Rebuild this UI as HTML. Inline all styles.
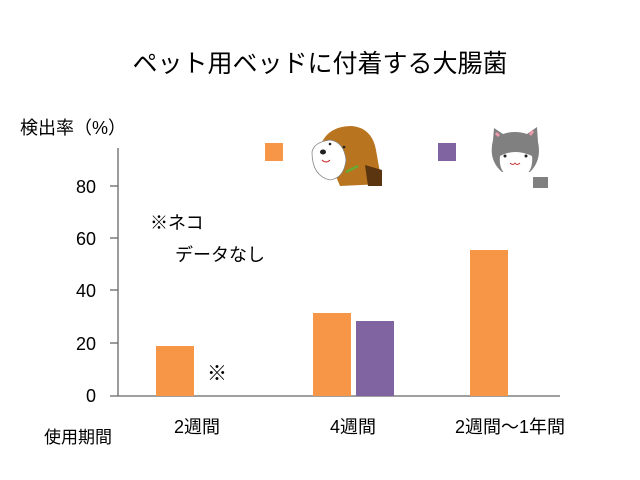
<!DOCTYPE html>
<html><head><meta charset="utf-8"><style>
html,body{margin:0;padding:0;background:#fff;}
svg{display:block;}
text{font-family:"Liberation Sans","Noto Sans CJK JP",sans-serif;fill:#000;}
</style></head><body>
<svg width="640" height="480" viewBox="0 0 640 480" xmlns="http://www.w3.org/2000/svg">
<text x="320" y="72" font-size="25" text-anchor="middle">ペット用ベッドに付着する大腸菌</text>
<text x="20" y="134" font-size="18">検出率（%）</text>
<line x1="118" y1="148" x2="118" y2="396" stroke="#666" stroke-width="1.3"/>
<line x1="110" y1="396" x2="560" y2="396" stroke="#666" stroke-width="1.3"/>
<g stroke="#666" stroke-width="1.3">
<line x1="110" y1="186" x2="118" y2="186"/><line x1="110" y1="238" x2="118" y2="238"/>
<line x1="110" y1="290" x2="118" y2="290"/><line x1="110" y1="343" x2="118" y2="343"/>
</g>
<g font-size="18" text-anchor="end">
<text x="96" y="193">80</text><text x="96" y="245">60</text><text x="96" y="297">40</text>
<text x="96" y="350">20</text><text x="96" y="402">0</text>
</g>
<rect x="156" y="346" width="38" height="50" fill="#F79646"/>
<rect x="313" y="313" width="38" height="83" fill="#F79646"/>
<rect x="356" y="321" width="38" height="75" fill="#8064A2"/>
<rect x="470" y="250" width="38" height="146" fill="#F79646"/>
<rect x="265" y="143" width="18" height="18" fill="#F79646"/>
<rect x="438" y="143" width="18" height="18" fill="#8064A2"/>
<g>
<path d="M322 142 Q330 126 352 126 Q372 128 376 150 L382 184 L340 186 Z" fill="#B8741E"/>
<path d="M365 165 L382 170 L382 186 L368 186 Z" fill="#5a3510"/>
<path d="M312 152 Q314 142 330 140 Q344 142 346 160 Q344 178 330 180 Q312 176 312 152 Z" fill="#fff" stroke="#888" stroke-width="0.8"/>
<ellipse cx="323" cy="152" rx="3" ry="2.5" fill="#222"/>
<path d="M322 160 Q326 164 330 160" stroke="#c33" fill="none" stroke-width="1"/>
<circle cx="330" cy="144" r="1.3" fill="#222"/><circle cx="344" cy="147" r="1.3" fill="#222"/>
<path d="M346 172 L358 166" stroke="#6a3" stroke-width="2.5"/>
</g>
<g>
<path d="M493 140 L494 128 L503 134 Q515 130 527 134 L537 127 L538 142 Q542 160 530 172 L502 172 Q488 160 493 140 Z" fill="#808080"/>
<path d="M496 133 L499 136 M533 131 L530 135" stroke="#e9a" stroke-width="3"/>
<path d="M500 156 Q515 148 532 156 Q534 176 516 178 Q498 176 500 156 Z" fill="#fff"/>
<circle cx="505" cy="156" r="1.5" fill="#222"/><circle cx="526" cy="156" r="1.5" fill="#222"/>
<path d="M510 163 Q513 166 515 163 Q517 166 520 163" stroke="#c33" fill="none" stroke-width="0.9"/>
<rect x="533" y="177" width="15" height="11" fill="#808080"/>
</g>
<text x="150" y="229" font-size="18">※ネコ</text>
<text x="175" y="261" font-size="18">データなし</text>
<text x="207" y="380" font-size="20">※</text>
<g font-size="18" text-anchor="middle">
<text x="197" y="433">2週間</text>
<text x="353" y="433">4週間</text>
<text x="510" y="433">2週間～1年間</text>
</g>
<text x="44" y="443" font-size="17">使用期間</text>
</svg>
</body></html>
